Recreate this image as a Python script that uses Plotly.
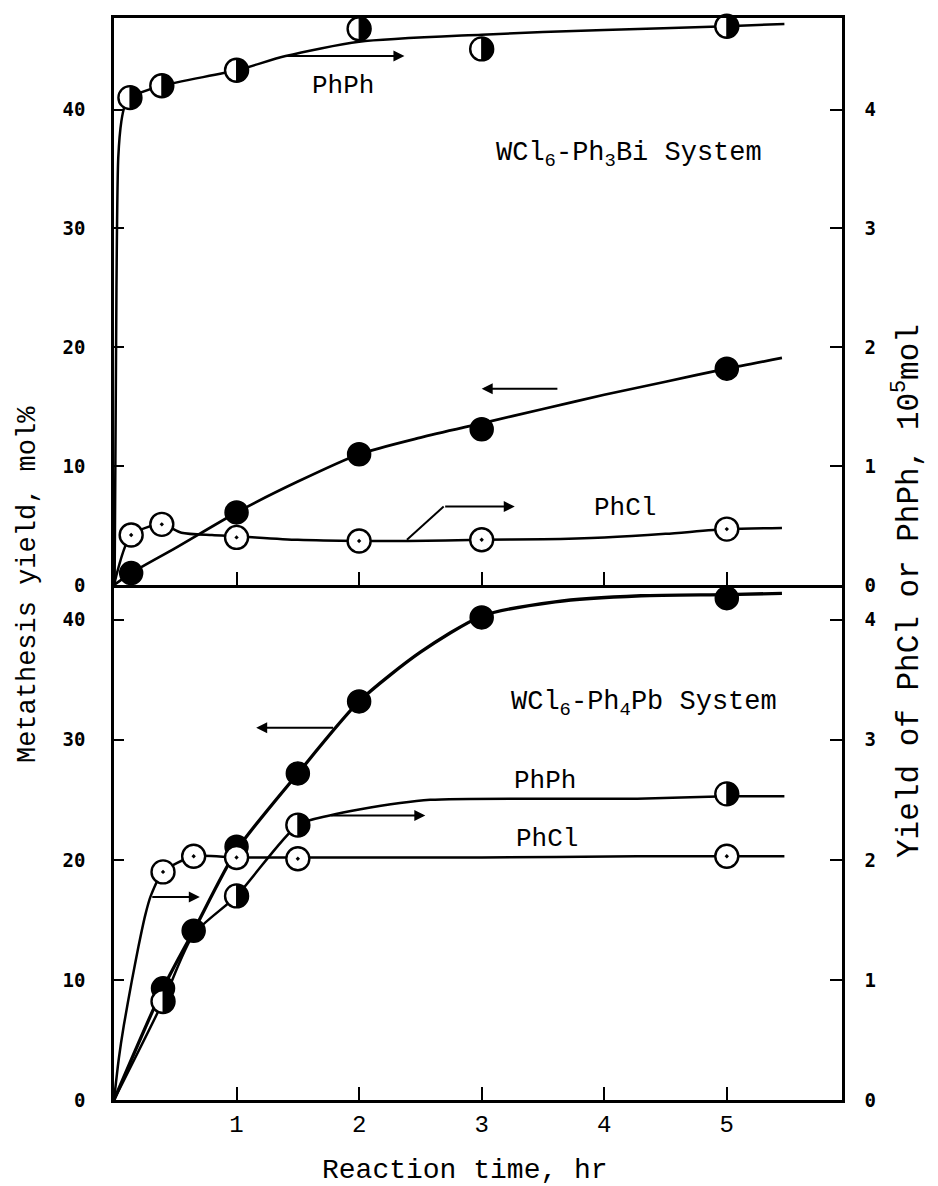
import plotly.graph_objects as go

# ---------------- data: top panel (WCl6-Ph3Bi system) ----------------
top_t_met = [0.14, 1, 2, 3, 5]
top_met = [1.0, 6.1, 11.0, 13.1, 18.2]           # metathesis yield, mol%
top_t_phcl = [0.14, 0.39, 1, 2, 3, 5]
top_phcl = [0.42, 0.51, 0.40, 0.37, 0.38, 0.47]  # PhCl, 10^5 mol
top_t_phph = [0.13, 0.39, 1, 2, 3, 5]
top_phph = [4.10, 4.20, 4.33, 4.68, 4.51, 4.70]  # PhPh, 10^5 mol

# hand-drawn curves (top)
top_met_curve_t = [0, 0.14, 0.5, 1, 1.5, 2, 2.5, 3, 3.5, 4, 4.5, 5, 5.45]
top_met_curve = [0, 1.0, 3.1, 6.1, 8.7, 11.0, 12.4, 13.6, 14.8, 16.0, 17.1, 18.2, 19.1]
top_phcl_curve_t = [0, 0.14, 0.39, 0.55, 0.8, 1, 1.5, 2, 2.4, 3, 3.5, 4, 4.5, 5, 5.45]
top_phcl_curve = [0, 0.42, 0.51, 0.44, 0.42, 0.41, 0.38, 0.37, 0.37, 0.38, 0.385, 0.40, 0.43, 0.47, 0.48]
top_phph_curve_t = [0.005, 0.02, 0.035, 0.06, 0.085, 0.13, 0.39, 1, 1.4, 2, 3, 4, 5, 5.47]
top_phph_curve = [0, 2.5, 3.6, 3.9, 4.02, 4.10, 4.20, 4.33, 4.45, 4.57, 4.63, 4.67, 4.70, 4.72]

# ---------------- data: bottom panel (WCl6-Ph4Pb system) ----------------
bot_t_met = [0.4, 0.65, 1, 1.5, 2, 3, 5]
bot_met = [9.3, 14.1, 21.1, 27.2, 33.2, 40.2, 41.8]
bot_t_phph = [0.4, 1, 1.5, 5]
bot_phph = [0.82, 1.70, 2.29, 2.55]
bot_t_phcl = [0.4, 0.65, 1, 1.5, 5]
bot_phcl = [1.90, 2.03, 2.02, 2.01, 2.03]

bot_met_curve_t = [0, 0.4, 0.65, 1, 1.5, 2, 2.5, 3, 3.6, 4.3, 5, 5.45]
bot_met_curve = [0, 9.3, 14.1, 20.8, 27.2, 33.2, 37.3, 40.3, 41.5, 42.0, 42.1, 42.2]
bot_phph_curve_t = [0, 0.4, 0.65, 1, 1.5, 1.76, 2.0, 2.58, 3.62, 4.27, 5, 5.47]
bot_phph_curve = [0, 0.82, 1.38, 1.70, 2.29, 2.37, 2.42, 2.50, 2.51, 2.51, 2.53, 2.53]
bot_phcl_curve_t = [0, 0.04, 0.08, 0.145, 0.2, 0.255, 0.3, 0.4, 0.65, 1, 1.5, 3, 4.27, 5, 5.47]
bot_phcl_curve = [0, 0.35, 0.62, 0.99, 1.28, 1.54, 1.70, 1.90, 2.03, 2.02, 2.02, 2.02, 2.03, 2.03, 2.03]

x_ticks = [1, 2, 3, 4, 5]
left_ticks = [0, 10, 20, 30, 40]
right_ticks = [0, 1, 2, 3, 4]

FONT = "Liberation Mono"
BLACK = "black"
MS = 23

fig = go.Figure()


def curve(t, v, xa, ya, w=2.5):
    fig.add_trace(go.Scatter(x=t, y=v, xaxis=xa, yaxis=ya, mode="lines",
                             line=dict(color=BLACK, width=w, shape="spline", smoothing=0.7),
                             hoverinfo="skip", showlegend=False, cliponaxis=True))


def filled(t, v, xa, ya):
    fig.add_trace(go.Scatter(x=t, y=v, xaxis=xa, yaxis=ya, mode="markers",
                             marker=dict(symbol="circle", size=MS, color=BLACK,
                                         line=dict(color=BLACK, width=1.5)),
                             showlegend=False, cliponaxis=False))


def open_dot(t, v, xa, ya):
    fig.add_trace(go.Scatter(x=t, y=v, xaxis=xa, yaxis=ya, mode="markers",
                             marker=dict(symbol="circle-dot", size=MS, color="white",
                                         line=dict(color=BLACK, width=2.4)),
                             showlegend=False, cliponaxis=False))


def half(t, v, xa, ya):
    fig.add_trace(go.Scatter(x=t, y=v, xaxis=xa, yaxis=ya, mode="markers",
                             marker=dict(symbol="circle", size=MS, color="white",
                                         line=dict(color=BLACK, width=2.4)),
                             showlegend=False, cliponaxis=False))
    r = MS / 2.0
    k = 0.5523
    path = (f"M0,{-r} C{k*r:.2f},{-r} {r},{-k*r:.2f} {r},0 "
            f"C{r},{k*r:.2f} {k*r:.2f},{r} 0,{r} Z")
    for xi, yi in zip(t, v):
        fig.add_shape(type="path", xref=xa, yref=ya, xsizemode="pixel", ysizemode="pixel",
                      xanchor=xi, yanchor=yi, path=path, fillcolor=BLACK,
                      line=dict(color=BLACK, width=1), layer="above")


# top panel
curve(top_phcl_curve_t, top_phcl_curve, "x2", "y2")
curve(top_phph_curve_t, top_phph_curve, "x2", "y2")
curve(top_met_curve_t, top_met_curve, "x2", "y", 2.7)
open_dot(top_t_phcl, top_phcl, "x2", "y2")
half(top_t_phph, top_phph, "x2", "y2")
filled(top_t_met, top_met, "x2", "y")

# bottom panel
curve(bot_phcl_curve_t, bot_phcl_curve, "x", "y4")
curve(bot_phph_curve_t, bot_phph_curve, "x", "y4")
curve(bot_met_curve_t, bot_met_curve, "x", "y3", 3.3)
open_dot(bot_t_phcl, bot_phcl, "x", "y4")
half(bot_t_phph, bot_phph, "x", "y4")
filled(bot_t_met, bot_met, "x", "y3")

# bent leader for top PhCl arrow
fig.add_shape(type="line", xref="x2", yref="y2", x0=2.39, y0=0.38, x1=2.69, y1=0.66,
              line=dict(color=BLACK, width=2))


def arrow(x_tail, x_head, y, xa, ya):
    fig.add_annotation(x=x_head, y=y, ax=x_tail, ay=y, xref=xa, yref=ya,
                       axref=xa, ayref=ya, text="", showarrow=True,
                       arrowhead=2, arrowsize=1.1, arrowwidth=2, arrowcolor=BLACK)


arrow(1.39, 2.37, 4.45, "x2", "y2")
arrow(3.63, 3.0, 16.5, "x2", "y")
arrow(2.69, 3.27, 0.66, "x2", "y2")
arrow(1.80, 1.16, 31.0, "x", "y3")
arrow(1.76, 2.54, 2.37, "x", "y4")
arrow(0.30, 0.70, 1.69, "x", "y4")


def label(txt, x, y, xa, ya, anchor="left", size=26):
    fig.add_annotation(x=x, y=y, xref=xa, yref=ya, text=txt, showarrow=False,
                       xanchor=anchor, yanchor="middle",
                       font=dict(family=FONT, size=size, color=BLACK))


label("PhPh", 1.60, 4.20, "x2", "y2")
label("WCl<sub>6</sub>-Ph<sub>3</sub>Bi System", 3.1, 36.2, "x2", "y", size=27)
label("PhCl", 3.90, 0.65, "x2", "y2")
label("WCl<sub>6</sub>-Ph<sub>4</sub>Pb System", 3.22, 33.0, "x", "y3", size=27)
label("PhPh", 3.25, 2.66, "x", "y4")
label("PhCl", 3.26, 2.17, "x", "y4")

# axis titles
fig.add_annotation(x=0.482, y=-0.0647, xref="paper", yref="paper", showarrow=False,
                   text="Reaction time, hr", font=dict(family=FONT, size=28, color=BLACK),
                   xanchor="center", yanchor="middle")
fig.add_annotation(x=-0.118, y=0.476, xref="paper", yref="paper", showarrow=False,
                   text="Metathesis yield, mol%", textangle=-90,
                   font=dict(family=FONT, size=27, color=BLACK),
                   xanchor="center", yanchor="middle")
fig.add_annotation(x=1.09, y=0.47, xref="paper", yref="paper", showarrow=False,
                   text="Yield of PhCl or PhPh, 10<sup>5</sup>mol", textangle=-90,
                   font=dict(family=FONT, size=31, color=BLACK),
                   xanchor="center", yanchor="middle")

axis_common = dict(showline=True, linewidth=2.6, linecolor=BLACK, showgrid=False,
                   zeroline=False, ticks="inside", tickwidth=2.2, tickcolor=BLACK)
ytick_font = dict(family="DejaVu Sans Mono", size=19, color=BLACK, weight="bold")

fig.update_layout(
    width=938, height=1186,
    margin=dict(l=114, r=96, t=18, b=86),
    paper_bgcolor="white", plot_bgcolor="white",
    showlegend=False,
    xaxis=dict(domain=[0, 1], anchor="y3", range=[0, 5.94], tickvals=x_ticks,
               ticklen=13, tickfont=dict(family=FONT, size=24, color=BLACK), **axis_common),
    xaxis2=dict(domain=[0, 1], anchor="y", range=[0, 5.94], tickvals=x_ticks,
                ticklen=13, showticklabels=False, mirror=True, **axis_common),
    yaxis=dict(domain=[0.476, 1], anchor="x2", range=[0, 47.7], tickvals=left_ticks,
               ticklen=10, tickfont=ytick_font, ticklabelstandoff=22, **axis_common),
    yaxis2=dict(overlaying="y", side="right", anchor="x2", range=[0, 4.77],
                tickvals=right_ticks, ticklen=12, tickfont=ytick_font,
                ticklabelstandoff=16, **axis_common),
    yaxis3=dict(domain=[0, 0.476], anchor="x", range=[0, 42.9], tickvals=left_ticks,
                ticklen=10, tickfont=ytick_font, ticklabelstandoff=22, **axis_common),
    yaxis4=dict(overlaying="y3", side="right", anchor="x", range=[0, 4.29],
                tickvals=right_ticks, ticklen=12, tickfont=ytick_font,
                ticklabelstandoff=16, **axis_common),
)

fig.write_html("out.html")
